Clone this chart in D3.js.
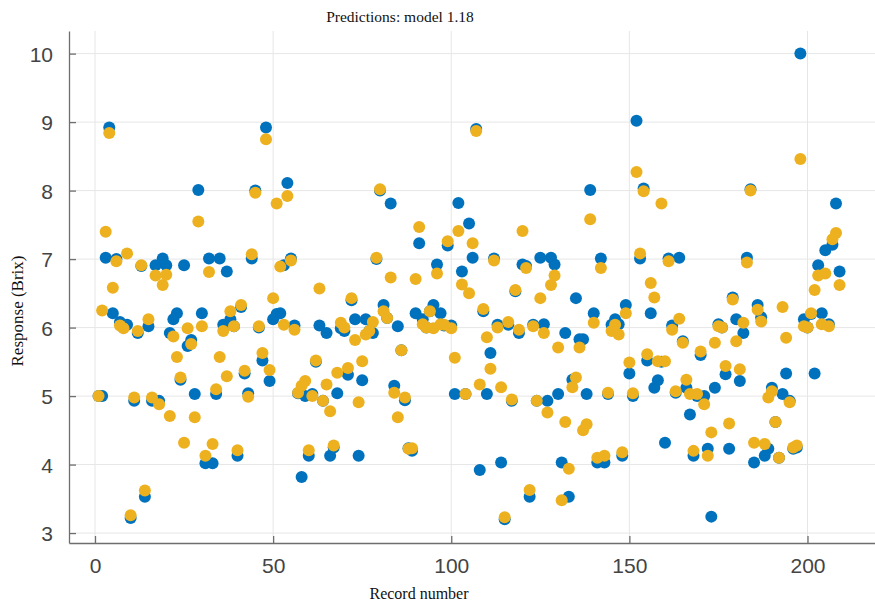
<!DOCTYPE html>
<html>
<head>
  <title>Predictions: model 1.18</title>
  <meta charset="utf-8">
  <script src="https://d3js.org/d3.v7.min.js"></script>
  <style>
  body { margin: 0; background: #fff; }
  .tick-label { font-family: "Liberation Sans", Arial, sans-serif; font-size: 21px; fill: #444; }
  .serif { font-family: "Liberation Serif", "Times New Roman", serif; fill: #111; }
  </style>
</head>
<body>
<div id="chart"></div>

<script type="text/javascript">
// measured Brix, one value per record (1..209)
var trueBrix = [
  5.0, 5.0, 7.02, 8.92, 6.21, 7.0, 6.08, 6.0, 6.04, 3.22,
  4.93, 5.92, 6.9, 3.53, 6.02, 4.93, 6.91, 4.93, 7.01, 6.91,
  5.92, 6.12, 6.21, 5.24, 6.91, 5.73, 5.82, 5.03, 8.01, 6.21,
  4.02, 7.01, 4.02, 5.03, 7.01, 6.04, 6.82, 6.12, 6.02, 4.13,
  6.3, 5.33, 5.04, 7.01, 8.0, 6.0, 5.52, 8.92, 5.22, 6.12,
  6.2, 6.21, 6.91, 8.11, 7.01, 6.03, 5.04, 3.82, 5.0, 4.13,
  5.03, 5.5, 6.03, 4.93, 5.92, 4.13, 4.25, 5.04, 5.99, 5.95,
  5.31, 6.4, 6.12, 4.13, 5.23, 6.12, 5.95, 5.92, 7.0, 8.0,
  6.33, 6.14, 7.81, 5.15, 6.02, 5.67, 4.94, 4.24, 4.2, 6.21,
  7.23, 6.12, 6.0, 6.24, 6.33, 6.92, 6.21, 6.03, 7.2, 6.03,
  5.03, 7.82, 6.82, 5.03, 7.52, 7.02, 8.9, 3.92, 6.24, 5.03,
  5.63, 7.01, 6.04, 4.03, 3.2, 6.04, 4.93, 6.53, 5.92, 6.92,
  6.9, 3.53, 6.04, 4.93, 7.02, 6.05, 4.93, 7.02, 6.92, 5.03,
  4.03, 5.92, 3.53, 5.24, 6.43, 5.83, 5.83, 5.03, 8.01, 6.21,
  4.03, 7.01, 4.03, 5.03, 6.04, 6.12, 6.05, 4.13, 6.33, 5.33,
  5.0, 9.02, 7.01, 8.03, 5.52, 6.21, 5.12, 5.23, 5.5, 4.32,
  7.01, 6.03, 5.05, 7.02, 5.8, 5.12, 4.73, 4.13, 5.0, 5.6,
  5.0, 4.23, 3.24, 5.12, 6.05, 6.0, 5.32, 4.23, 6.44, 6.12,
  5.22, 5.92, 7.02, 8.02, 4.03, 6.33, 6.15, 4.13, 4.23, 5.12,
  4.62, 4.1, 5.03, 5.33, 4.93, 4.23, 4.25, 10.0, 6.12, 6.0,
  6.2, 5.33, 6.91, 6.21, 7.13, 6.05, 7.21, 7.81, 6.82
];
// model 1.18 predictions, same records
var predBrix = [
  5.0, 6.25, 7.40, 8.84, 6.58, 6.97, 6.03, 5.99, 7.08, 3.26,
  4.98, 5.95, 6.91, 3.62, 6.12, 4.98, 6.76, 4.88, 6.62, 6.77,
  4.71, 5.87, 5.57, 5.27, 4.32, 5.99, 5.76, 4.69, 7.55, 6.02,
  4.13, 6.81, 4.30, 5.10, 5.57, 5.95, 5.29, 6.24, 6.02, 4.21,
  6.33, 5.37, 4.99, 7.07, 7.97, 6.02, 5.63, 8.75, 5.38, 6.43,
  7.81, 6.89, 6.04, 7.92, 6.98, 5.97, 5.05, 5.15, 5.22, 4.21,
  5.0, 5.52, 6.57, 4.93, 5.17, 4.78, 4.28, 5.34, 6.07, 6.0,
  5.41, 6.43, 5.82, 4.91, 5.51, 5.9, 5.95, 6.08, 7.02, 8.02,
  6.24, 6.14, 6.73, 5.05, 4.69, 5.67, 4.98, 4.23, 4.24, 6.71,
  7.47, 6.05, 6.0, 6.24, 5.99, 6.79, 6.05, 6.04, 7.26, 5.99,
  5.56, 7.41, 6.63, 5.03, 6.5, 7.23, 8.87, 5.17, 6.27, 5.86,
  5.4, 6.98, 6.0, 5.13, 3.23, 6.08, 4.95, 6.55, 5.97, 7.41,
  6.87, 3.63, 6.02, 4.93, 6.43, 5.92, 4.76, 6.62, 6.76, 5.71,
  3.48, 4.62, 3.94, 5.13, 5.27, 5.71, 4.5, 4.59, 7.58, 6.07,
  4.1, 6.87, 4.13, 5.05, 5.95, 6.04, 5.9, 4.18, 6.21, 5.49,
  5.04, 8.27, 7.08, 7.99, 5.61, 6.65, 6.44, 5.51, 7.81, 5.51,
  6.97, 5.97, 5.07, 6.13, 5.78, 5.24, 5.03, 4.2, 5.03, 5.65,
  4.88, 4.13, 4.47, 5.78, 6.02, 6.0, 5.44, 4.6, 6.41, 5.8,
  5.39, 6.07, 6.95, 8.0, 4.32, 6.26, 6.09, 4.3, 4.98, 5.07,
  4.62, 4.1, 6.3, 5.85, 4.91, 4.25, 4.28, 8.46, 6.02, 6.0,
  6.21, 6.55, 6.76, 6.05, 6.79, 6.02, 7.29, 7.38, 6.62
];
var records = d3.range(1, trueBrix.length + 1);
var xTicks = [0, 50, 100, 150, 200];
var yTicks = [3, 4, 5, 6, 7, 8, 9, 10];

var WIDTH = 875;
var HEIGHT = 605;
var LEFT = 69;
var TOP = 31;
var BOTTOM = 543;
var RADIUS = 6;

var svg = d3.select("#chart").append("svg")
  .attr("width", WIDTH)
  .attr("height", HEIGHT);

var x = d3.scaleLinear().domain([-7.3, 224]).range([LEFT, 893]);
var y = d3.scaleLinear().domain([2.855, 10.33]).range([BOTTOM, TOP]);

// grid
var grid = svg.append("g");
grid.selectAll(".gx").data(xTicks).enter().append("line")
  .attr("x1", function(d) { return x(d); })
  .attr("x2", function(d) { return x(d); })
  .attr("y1", TOP).attr("y2", BOTTOM)
  .attr("stroke", "#e6e6e6").attr("stroke-width", 1);
grid.selectAll(".gy").data(yTicks).enter().append("line")
  .attr("x1", LEFT).attr("x2", WIDTH)
  .attr("y1", function(d) { return y(d); })
  .attr("y2", function(d) { return y(d); })
  .attr("stroke", "#e6e6e6").attr("stroke-width", 1);

// axes (ticks point inward like the original)
var xAxis = svg.append("g")
  .attr("transform", "translate(0," + BOTTOM + ")")
  .call(d3.axisBottom(x).tickValues(xTicks).tickSizeInner(-7).tickSizeOuter(0).tickPadding(15));
var yAxis = svg.append("g")
  .attr("transform", "translate(" + LEFT + ",0)")
  .call(d3.axisLeft(y).tickValues(yTicks).tickSizeInner(-7).tickSizeOuter(0).tickPadding(16));

[xAxis, yAxis].forEach(function(ax) {
  ax.select(".domain").attr("stroke", "#6e6e6e").attr("stroke-width", 1.3);
  ax.selectAll(".tick line").attr("stroke", "#6e6e6e").attr("stroke-width", 1.3);
  ax.selectAll(".tick text").attr("class", "tick-label").attr("font-size", null).attr("font-family", null).attr("fill", null);
});
yAxis.selectAll(".tick text").attr("dy", "0.36em");

// points: measured first, predictions drawn on top
svg.append("g").selectAll("circle").data(records).enter().append("circle")
  .attr("cx", function(d) { return x(d); })
  .attr("cy", function(d, i) { return y(trueBrix[i]); })
  .attr("r", RADIUS)
  .attr("fill", "#0072BD");
svg.append("g").selectAll("circle").data(records).enter().append("circle")
  .attr("cx", function(d) { return x(d); })
  .attr("cy", function(d, i) { return y(predBrix[i]); })
  .attr("r", RADIUS)
  .attr("fill", "#EDB120");

// labels
svg.append("text").attr("class", "serif")
  .attr("x", 400).attr("y", 22)
  .attr("text-anchor", "middle").attr("font-size", 15.5)
  .text("Predictions: model 1.18");
svg.append("text").attr("class", "serif")
  .attr("x", 419).attr("y", 599)
  .attr("text-anchor", "middle").attr("font-size", 16)
  .text("Record number");
svg.append("text").attr("class", "serif")
  .attr("transform", "translate(23,311) rotate(-90)")
  .attr("text-anchor", "middle").attr("font-size", 17)
  .text("Response (Brix)");
</script>
</body>
</html>
